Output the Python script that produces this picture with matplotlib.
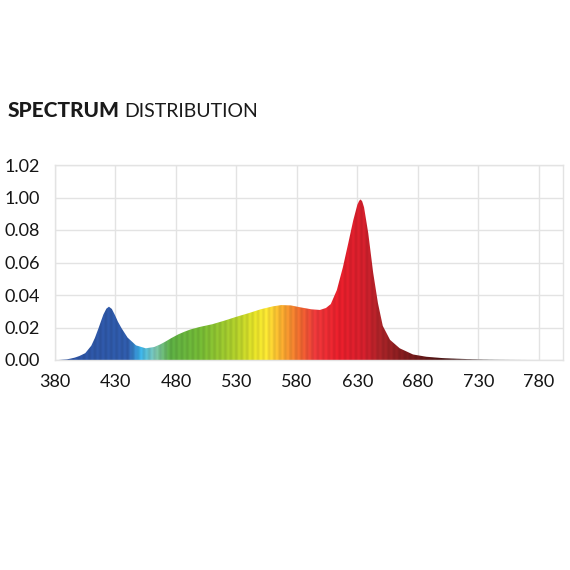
import numpy as np
import matplotlib
matplotlib.use("Agg")
import matplotlib.pyplot as plt
from matplotlib.colors import LinearSegmentedColormap, to_rgb
from matplotlib.patches import PathPatch

# ---- data ----
wavelength = [383, 390, 396, 400, 405, 410, 413, 416, 420, 422.5, 424.6, 427, 429.6, 432, 435,
              440, 447, 455, 462, 467, 471, 476, 482, 487, 492, 500, 510, 520,
              530, 540, 550, 560, 567, 575, 583, 592, 599, 604, 608, 613, 618, 622.5, 626.6,
              630, 631.5, 632.7, 634, 635.5, 639, 643, 647, 651, 657, 665, 676, 687, 700,
              710, 720, 730, 745, 760, 775]
intensity_units = [0, 0.02, 0.07, 0.12, 0.21, 0.44, 0.68, 0.98, 1.4, 1.58, 1.64, 1.57, 1.38, 1.18, 0.98,
                   0.69, 0.45, 0.36, 0.4, 0.48, 0.56, 0.67, 0.79, 0.87, 0.94, 1.02, 1.1, 1.21,
                   1.33, 1.44, 1.56, 1.65, 1.69, 1.68, 1.62, 1.56, 1.54, 1.6, 1.72, 2.15, 2.85, 3.6, 4.3,
                   4.78, 4.9, 4.94, 4.88, 4.7, 3.9, 2.7, 1.75, 1.05, 0.62, 0.36, 0.17, 0.1, 0.06,
                   0.045, 0.03, 0.02, 0.01, 0.004, 0]
intensity = [v * 0.02 for v in intensity_units]

x_ticks = [380, 430, 480, 530, 580, 630, 680, 730, 780]
y_ticks = [0.00, 0.02, 0.04, 0.06, 0.08, 0.10, 0.12]
y_tick_labels = ["0.00", "0.02", "0.04", "0.06", "0.08", "1.00", "1.02"]

color_wl = [380, 440, 450, 462, 475, 500, 530, 545, 555, 568, 582, 595, 615, 635, 650, 670, 700, 740, 800]
color_hex = ['#2b4f9e', '#2f5aa8', '#3ab0e6', '#7cc3b0', '#5bab42', '#72b634', '#b0cc2a', '#e2de28',
             '#f7e233', '#f3a72e', '#eb6a2e', '#e8383a', '#e41e2a', '#d11f2c', '#a52327', '#7d1b1c',
             '#4a1414', '#808080', '#cccccc']

# ---- figure ----
fig = plt.figure(figsize=(5.7, 5.7), dpi=100)
ax = fig.add_axes([55/570, 1-360/570, (563-55)/570, (360-165)/570])

ax.set_xlim(380, 800)
ax.set_ylim(0, 0.12)

# gradient image
lo, hi = color_wl[0], color_wl[-1]
cmap = LinearSegmentedColormap.from_list(
    "spec", [((w - lo) / (hi - lo), to_rgb(c)) for w, c in zip(color_wl, color_hex)])
grid_wl = np.linspace(380, 800, 1200)
rgb = cmap((grid_wl - lo) / (hi - lo))[:, :3]
stripe = 1.0 + 0.05 * np.sin(2 * np.pi * grid_wl / 4.5)
rgb = np.clip(rgb * stripe[:, None], 0, 1)
img = np.repeat(rgb[None, :, :], 2, axis=0)

poly = ax.fill_between(wavelength, intensity, 0, color='none', lw=0)
im = ax.imshow(img, extent=[380, 800, 0, 0.12], aspect='auto', origin='lower',
               interpolation='bilinear', zorder=2)
path = poly.get_paths()[0]
patch = PathPatch(path, transform=ax.transData, facecolor='none', edgecolor='none')
ax.add_patch(patch)
im.set_clip_path(patch)

# grid
ax.set_xticks(x_ticks)
ax.set_yticks(y_ticks)
ax.grid(True, color='#e3e3e3', lw=1.0, zorder=0)
ax.set_axisbelow(True)
for s in ax.spines.values():
    s.set_color('#e3e3e3')
    s.set_linewidth(1.0)
ax.tick_params(length=0)

tick_font = ['Lato', 'DejaVu Sans']
ax.set_xticklabels([str(v) for v in x_ticks], fontsize=13, family=tick_font, color='#151515')
ax.set_yticklabels(y_tick_labels, fontsize=13, family=tick_font, color='#151515')
ax.tick_params(axis='x', pad=10)
ax.tick_params(axis='y', pad=11)

# title
t1 = fig.text(8/570, 1-117/570, "SPECTRUM", fontsize=15, fontweight='black',
              family=['Lato', 'DejaVu Sans'], color='#1a1a1a', ha='left', va='baseline')
fig.canvas.draw()
bb = t1.get_window_extent()
fig.text((bb.x1 + 4) / 570, 1-117/570, "DISTRIBUTION", fontsize=14, fontweight='normal',
         family=['Lato', 'DejaVu Sans'], color='#1a1a1a', ha='left', va='baseline')

fig.savefig("out.png", dpi=100, facecolor='white')
